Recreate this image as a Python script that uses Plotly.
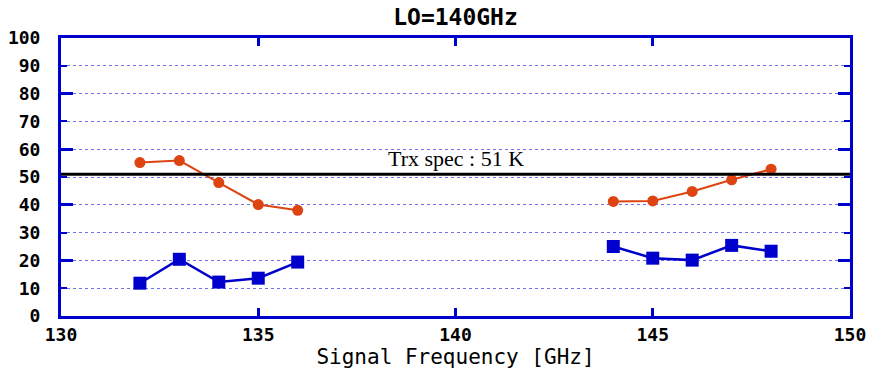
import plotly.graph_objects as go

# Data
freq_lsb = [132, 133, 134, 135, 136]
freq_usb = [144, 145, 146, 147, 148]
trx_lsb = [55.2, 55.9, 48.0, 40.1, 38.0]
trx_usb = [41.2, 41.4, 44.8, 49.0, 52.8]
blue_lsb = [11.8, 20.4, 12.2, 13.6, 19.4]
blue_usb = [25.0, 20.8, 20.1, 25.4, 23.3]
spec_value = 51
spec_label = "Trx spec : 51 K"
title_text = "LO=140GHz"
x_title = "Signal Frequency [GHz]"
x_range = [130, 150]
y_range = [0, 100]

AX = "#0000CC"
RED = "#DD4411"
MONO = "DejaVu Sans Mono"

fig = go.Figure()

fig.add_trace(go.Scatter(
    x=freq_lsb + [None] + freq_usb,
    y=trx_lsb + [None] + trx_usb,
    mode="lines+markers",
    line=dict(color=RED, width=2),
    marker=dict(symbol="circle", size=11, color=RED),
    showlegend=False, hoverinfo="skip"))

fig.add_trace(go.Scatter(
    x=freq_lsb + [None] + freq_usb,
    y=blue_lsb + [None] + blue_usb,
    mode="lines+markers",
    line=dict(color=AX, width=2.5),
    marker=dict(symbol="square", size=13, color=AX),
    showlegend=False, hoverinfo="skip"))

# invisible trace for the secondary y axis that carries long ticks
fig.add_trace(go.Scatter(x=[x_range[0]], y=[y_range[0]], yaxis="y2",
                         mode="markers", marker=dict(opacity=0),
                         showlegend=False, hoverinfo="skip"))

fig.add_shape(type="line", xref="x", yref="y",
              x0=x_range[0], x1=x_range[1], y0=spec_value, y1=spec_value,
              line=dict(color="black", width=3), layer="above")

fig.add_annotation(x=(x_range[0] + x_range[1]) / 2, y=spec_value,
                   xref="x", yref="y", text=spec_label, showarrow=False,
                   yanchor="bottom", yshift=1,
                   font=dict(family="Liberation Serif", size=22, color="black"))

fig.update_layout(
    width=875, height=376,
    margin=dict(l=61, r=25, t=38, b=60, autoexpand=False),
    paper_bgcolor="white", plot_bgcolor="white",
    title=dict(text=title_text, x=(61 + 850) / 2 / 875, xanchor="center",
               y=1 - 17 / 376, yanchor="middle", yref="container",
               font=dict(family=MONO, size=23, color="black", weight="bold")),
    xaxis=dict(range=x_range, dtick=5, tick0=130, automargin=False,
               ticks="inside", ticklen=8, tickwidth=3, tickcolor=AX,
               showline=True, linecolor=AX, linewidth=3, mirror="ticks",
               showgrid=False, zeroline=False,
               tickfont=dict(family=MONO, size=18, color="black", weight="bold"),
               ticklabelstandoff=0,
               title=dict(text=x_title, standoff=6,
                          font=dict(family=MONO, size=21, color="black"))),
    yaxis=dict(range=y_range, dtick=10, tick0=0, automargin=False,
               ticks="inside", ticklen=6, tickwidth=2, tickcolor=AX,
               showline=True, linecolor=AX, linewidth=3, mirror="ticks",
               showgrid=True, gridcolor="#7070EE", gridwidth=1, griddash="dot",
               zeroline=False,
               tickfont=dict(family=MONO, size=18, color="black", weight="bold"),
               ticklabelstandoff=14),
    yaxis2=dict(range=y_range, overlaying="y", side="left", dtick=20, tick0=0,
                ticks="inside", ticklen=12, tickwidth=3, tickcolor=AX,
                showline=False, mirror="ticks", showgrid=False, zeroline=False,
                showticklabels=False, automargin=False),
)

fig.write_html("out.html")
